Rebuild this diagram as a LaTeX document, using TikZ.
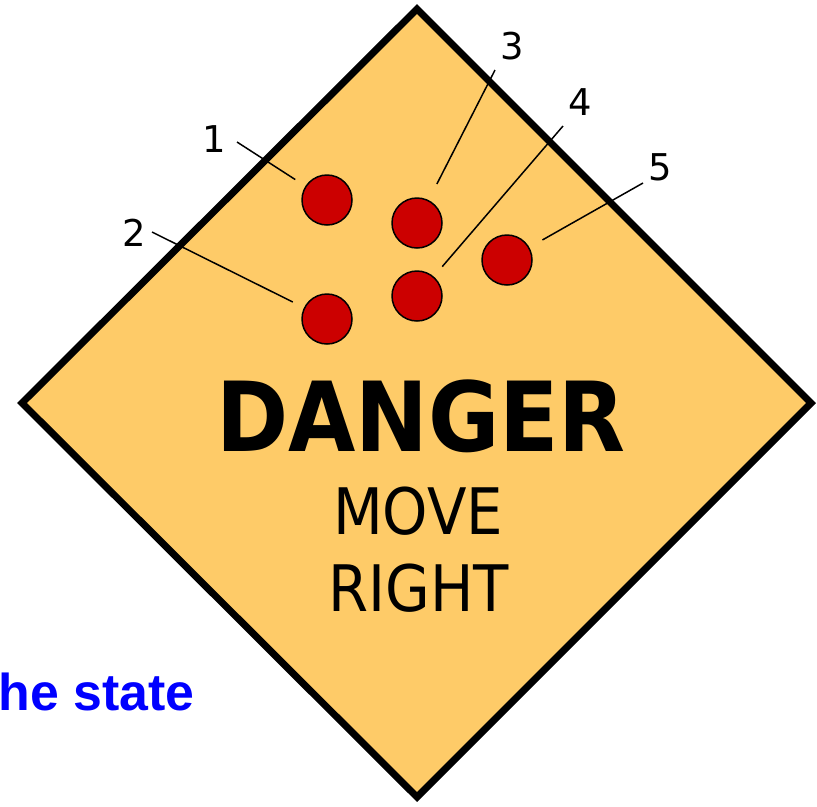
\documentclass[tikz,border=0pt]{standalone}
\usepackage{fontspec}
\setmainfont{DejaVu Sans}
\newfontfamily\condfont{DejaVu Sans Condensed}
\newfontfamily\arialfont{Liberation Sans}
\usepackage{xcolor}
\definecolor{signfill}{RGB}{254,203,104}
\definecolor{dotred}{RGB}{204,0,0}

\begin{document}
\begin{tikzpicture}[
  x=0.02cm, y=-0.02cm,
  sign/.style={
    draw=black, fill=signfill, line width=4pt, line join=miter
  },
  dot/.style={
    circle, draw=black, fill=dotred, line width=0.85pt,
    minimum size=1cm, inner sep=0pt
  },
  num/.style={
    font=\fontsize{21}{25}\selectfont, inner sep=0pt
  },
  leader/.style={
    draw=black, line width=0.85pt, shorten >=#1
  },
  leader/.default=13*0.02cm
]
\useasboundingbox (0,0) rectangle (817,806);

% Sign
\draw[sign] (417,9) -- (811,403) -- (417,797) -- (22,403) -- cycle;

% Dots
\node[dot] (c1) at (327,200) {};
\node[dot] (c2) at (327,319) {};
\node[dot] (c3) at (417,223) {};
\node[dot] (c4) at (417,296) {};
\node[dot] (c5) at (507,260) {};

% Numbers
\node[num] (l1) at (214,139) {1};
\node[num] (l2) at (134,233) {2};
\node[num] (l3) at (512,46) {3};
\node[num] (l4) at (580,102) {4};
\node[num] (l5) at (660,167) {5};

\coordinate (s1) at (237,142);
\coordinate (s2) at (152,232);
\coordinate (s3) at (495,70);
\coordinate (s4) at (563,126);
\coordinate (s5) at (643,183);

% Leaders
\draw[leader=0.24cm] (s1) -- (c1);
\draw[leader=0.25cm] (s2) -- (c2);
\draw[leader=0.36cm] (s3) -- (c3);
\draw[leader=0.26cm] (s4) -- (c4);
\draw[leader=0.30cm] (s5) -- (c5);

% Text
\node[font=\condfont\bfseries\fontsize{55}{60}\selectfont, inner sep=0pt] (danger) at (421,416) {DANGER};
\node[font=\condfont\fontsize{36.5}{40}\selectfont, inner sep=0pt] (move) at (418,511) {MOVE};
\node[font=\condfont\fontsize{36.5}{40}\selectfont, inner sep=0pt] (right) at (419,588) {RIGHT};

\node[font=\arialfont\bfseries\fontsize{29.5}{34}\selectfont, text={rgb,255:red,0;green,0;blue,255},
  anchor=base east, inner sep=0pt] (state) at (195,710) {he state};

\end{tikzpicture}
\end{document}
